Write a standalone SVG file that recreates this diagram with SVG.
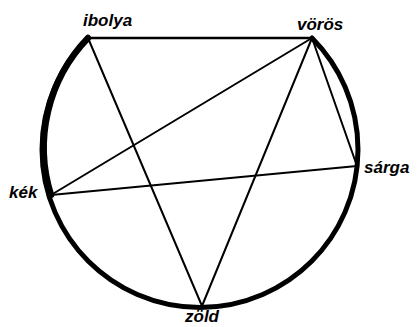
<svg xmlns="http://www.w3.org/2000/svg" width="419" height="327" viewBox="0 0 419 327">
<style>
.lbl{font-family:"Liberation Sans",Arial,sans-serif;font-weight:bold;font-style:italic;font-size:17px;fill:#000}
.ln{stroke:#000;stroke-width:2;fill:none;stroke-linecap:round}
.arc{stroke:#000;stroke-width:5;fill:none;stroke-linecap:round}
</style>
<rect width="419" height="327" fill="#fff"/>
<g id="connectors">
<path class="arc" d="M 88 38 A 158 158 0 1 0 312 38"/>
<path class="arc" d="M 88 38 A 158 158 0 0 0 51 195" style="stroke-width:6.5"/>
<line class="ln" x1="88" y1="38" x2="312" y2="38" style="stroke-width:2.5"/>
<line class="ln" x1="88" y1="38" x2="202" y2="306"/>
<line class="ln" x1="312" y1="38" x2="51" y2="195"/>
<line class="ln" x1="312" y1="38" x2="202" y2="306"/>
<line class="ln" x1="312" y1="38" x2="357" y2="166"/>
<line class="ln" x1="51" y1="195" x2="357" y2="166"/>
</g>
<g id="ibolya"><text class="lbl" x="83" y="26">ibolya</text></g>
<g id="voros"><text class="lbl" x="297" y="30">vörös</text></g>
<g id="sarga"><text class="lbl" x="364" y="173">sárga</text></g>
<g id="kek"><text class="lbl" x="9" y="198">kék</text></g>
<g id="zold"><text class="lbl" x="185" y="322">zöld</text></g>
</svg>
